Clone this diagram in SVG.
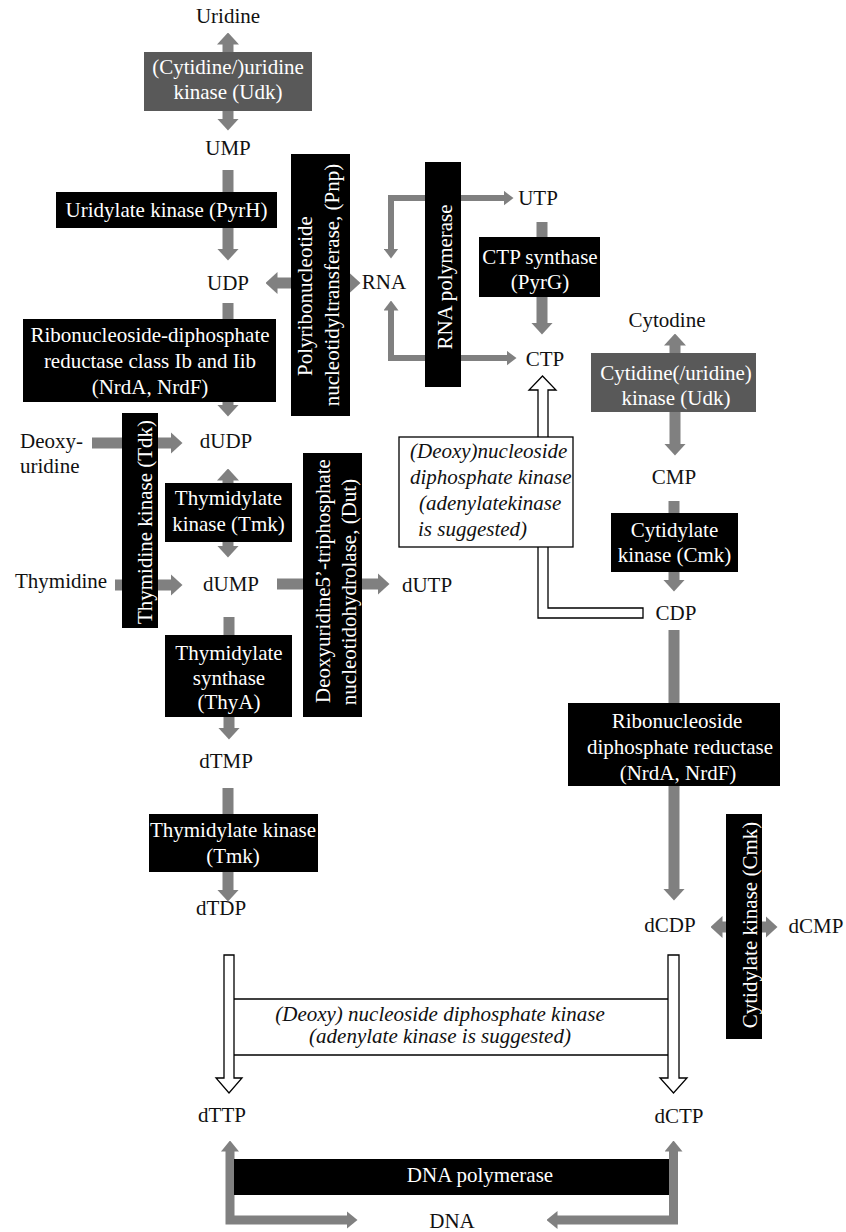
<svg xmlns="http://www.w3.org/2000/svg" width="846" height="1232" viewBox="0 0 846 1232" font-family="'Liberation Serif', 'DejaVu Serif', serif">
<defs>
<style>
text{font-family:'Liberation Serif','DejaVu Serif',serif}
.t{font-size:21px;fill:#111;text-anchor:middle}
.s{text-anchor:start}
.w{fill:#fff}
.it{font-style:italic}
.bk{fill:#000}
.gy{fill:#595959}
.wb{fill:#fff;stroke:#000;stroke-width:1.3}
.c{fill:none;stroke:#808080;stroke-width:11}
.c6{fill:none;stroke:#808080;stroke-width:6}
.c9{fill:none;stroke:#808080;stroke-width:9}
.ho{fill:#fff;stroke:#000;stroke-width:1.3}
.ln{stroke:#000;stroke-width:1.3}
</style>
<marker id="ah" markerUnits="userSpaceOnUse" viewBox="0 0 12 22" markerWidth="12" markerHeight="22" refX="0.5" refY="11" orient="auto-start-reverse"><path d="M0,0L12,11L0,22z" fill="#808080"/></marker>
<marker id="as" markerUnits="userSpaceOnUse" viewBox="0 0 10 15" markerWidth="10" markerHeight="15" refX="0.5" refY="7.5" orient="auto-start-reverse"><path d="M0,0L10,7.5L0,15z" fill="#808080"/></marker>
<marker id="am" markerUnits="userSpaceOnUse" viewBox="0 0 11 18" markerWidth="11" markerHeight="18" refX="0.5" refY="9" orient="auto-start-reverse"><path d="M0,0L11,9L0,18z" fill="#808080"/></marker>
</defs>

<g id="connectors">
<path class="c" d="M228,44V119" marker-start="url(#ah)" marker-end="url(#ah)"/>
<path class="c" d="M228,170V249" marker-end="url(#ah)"/>
<path class="c" d="M277,283H349" marker-start="url(#ah)" marker-end="url(#ah)"/>
<path class="c" d="M228,303V405" marker-end="url(#ah)"/>
<path class="c" d="M92,443H171" marker-end="url(#ah)"/>
<path class="c" d="M228,480V546" marker-start="url(#ah)" marker-end="url(#ah)"/>
<path class="c" d="M115,585H171" marker-end="url(#ah)"/>
<path class="c" d="M277,584H378" marker-end="url(#ah)"/>
<path class="c" d="M229,617V728" marker-end="url(#ah)"/>
<path class="c" d="M228,788V890" marker-end="url(#ah)"/>
<path class="c" d="M542,222V323" marker-end="url(#ah)"/>
<path class="c" d="M675,345V444" marker-start="url(#ah)" marker-end="url(#ah)"/>
<path class="c" d="M674,501V580" marker-end="url(#ah)"/>
<path class="c" d="M674,630V889" marker-end="url(#ah)"/>
<path class="c" d="M722,927H766" marker-start="url(#ah)" marker-end="url(#ah)"/>
<path class="c6" d="M391,249V198H504" marker-start="url(#as)" marker-end="url(#as)"/>
<path class="c6" d="M391,310V358H507" marker-start="url(#as)" marker-end="url(#as)"/>
<path class="c9" d="M230,1151V1220H347" marker-start="url(#am)" marker-end="url(#am)"/>
<path class="c9" d="M673.5,1151V1220H557" marker-start="url(#am)" marker-end="url(#am)"/>
<polygon class="ho" points="643,608 548,608 548,390 556,390 542.5,376 529,390 538,390 538,618 643,618"/>
<polygon class="ho" points="224,955 234,955 234,1078 242,1078 229,1093 216,1078 224,1078"/>
<polygon class="ho" points="668,955 679,955 679,1078 687,1078 673.5,1093 660,1078 668,1078"/>
<line class="ln" x1="234" y1="999" x2="668" y2="999"/>
<line class="ln" x1="234" y1="1055" x2="668" y2="1055"/>
</g>

<g id="uridine"><text class="t" x="228" y="23">Uridine</text></g>
<g id="udk1"><rect class="gy" x="144" y="52" width="168" height="59"/><text class="t w" x="228" y="74">(Cytidine/)uridine</text><text class="t w" x="228" y="99">kinase (Udk)</text></g>
<g id="ump"><text class="t" x="228" y="155">UMP</text></g>
<g id="pyrh"><rect class="bk" x="56" y="192" width="221" height="36"/><text class="t w" x="166.5" y="217">Uridylate kinase (PyrH)</text></g>
<g id="udp"><text class="t" x="228" y="290">UDP</text></g>
<g id="pnp"><rect class="bk" x="291" y="154" width="59" height="262"/>
<text class="t w" transform="translate(312,296) rotate(-90)" x="0" y="0">Polyribonucleotide</text>
<text class="t w" transform="translate(339,285) rotate(-90)" x="0" y="0">nucleotidyltransferase, (Pnp)</text></g>
<g id="rna"><text class="t" x="384" y="289">RNA</text></g>
<g id="rnapol"><rect class="bk" x="425" y="162" width="36" height="225"/><text class="t w" transform="translate(452,277) rotate(-90)">RNA polymerase</text></g>
<g id="utp"><text class="t" x="538" y="205">UTP</text></g>
<g id="pyrg"><rect class="bk" x="479" y="237" width="121" height="60"/><text class="t w" x="540" y="264">CTP synthase</text><text class="t w" x="540" y="289">(PyrG)</text></g>
<g id="ctp"><text class="t" x="545" y="366">CTP</text></g>
<g id="cytodine"><text class="t" x="667" y="327">Cytodine</text></g>
<g id="udk2"><rect class="gy" x="591" y="353" width="165" height="59"/><text class="t w" x="676" y="380">Cytidine(/uridine)</text><text class="t w" x="676" y="405">kinase (Udk)</text></g>
<g id="cmp"><text class="t" x="674" y="484">CMP</text></g>
<g id="cmk1"><rect class="bk" x="611" y="513" width="127" height="59"/><text class="t w" x="674.5" y="537">Cytidylate</text><text class="t w" x="674.5" y="562">kinase (Cmk)</text></g>
<g id="cdp"><text class="t" x="676" y="620">CDP</text></g>
<g id="ndk1"><rect class="wb" x="399" y="437" width="174" height="110"/>
<text class="t it s" x="410" y="458">(Deoxy)nucleoside</text>
<text class="t it s" x="410" y="484">diphosphate kinase</text>
<text class="t it s" x="419" y="510">(adenylatekinase</text>
<text class="t it s" x="418" y="536">is suggested)</text></g>
<g id="nrd1"><rect class="bk" x="23" y="319" width="253" height="83"/><text class="t w" x="150" y="342">Ribonucleoside-diphosphate</text><text class="t w" x="150" y="368">reductase class Ib and Iib</text><text class="t w" x="150" y="394">(NrdA, NrdF)</text></g>
<g id="deoxyuridine"><text class="t s" x="20" y="448">Deoxy-</text><text class="t s" x="20" y="473">uridine</text></g>
<g id="dudp"><text class="t" x="226" y="448">dUDP</text></g>
<g id="tdk"><rect class="bk" x="122" y="413" width="36" height="215"/><text class="t w" transform="translate(152,522) rotate(-90)">Thymidine kinase (Tdk)</text></g>
<g id="tmk1"><rect class="bk" x="165" y="483" width="127" height="59"/><text class="t w" x="228.5" y="505">Thymidylate</text><text class="t w" x="228.5" y="531">kinase (Tmk)</text></g>
<g id="thymidine"><text class="t s" x="15" y="588">Thymidine</text></g>
<g id="dump"><text class="t" x="231" y="591">dUMP</text></g>
<g id="dut"><rect class="bk" x="303" y="453" width="59" height="264"/>
<text class="t w" transform="translate(330,581) rotate(-90)">Deoxyuridine5’-triphosphate</text>
<text class="t w" transform="translate(356,592) rotate(-90)">nucleotidohydrolase, (Dut)</text></g>
<g id="dutp"><text class="t" x="427" y="592">dUTP</text></g>
<g id="thya"><rect class="bk" x="165" y="635" width="127" height="82"/><text class="t w" x="229" y="660">Thymidylate</text><text class="t w" x="229" y="685">synthase</text><text class="t w" x="229" y="709">(ThyA)</text></g>
<g id="dtmp"><text class="t" x="226" y="768">dTMP</text></g>
<g id="tmk2"><rect class="bk" x="149" y="814" width="169" height="58"/><text class="t w" x="233" y="837">Thymidylate kinase</text><text class="t w" x="233" y="863">(Tmk)</text></g>
<g id="dtdp"><text class="t" x="221" y="915">dTDP</text></g>
<g id="nrd2"><rect class="bk" x="568" y="703" width="212" height="83"/><text class="t w" x="677" y="728">Ribonucleoside</text><text class="t w" x="680" y="754">diphosphate reductase</text><text class="t w" x="678" y="780">(NrdA, NrdF)</text></g>
<g id="dcdp"><text class="t" x="670" y="932">dCDP</text></g>
<g id="cmk2"><rect class="bk" x="726" y="814" width="36" height="225"/><text class="t w" transform="translate(757,925) rotate(-90)">Cytidylate kinase (Cmk)</text></g>
<g id="dcmp"><text class="t" x="816" y="933">dCMP</text></g>
<g id="ndk2"><text class="t it" x="440" y="1021">(Deoxy) nucleoside diphosphate kinase</text><text class="t it" x="440" y="1043">(adenylate kinase is suggested)</text></g>
<g id="dttp"><text class="t" x="222" y="1122">dTTP</text></g>
<g id="dctp"><text class="t" x="679" y="1123">dCTP</text></g>
<g id="dnapol"><rect class="bk" x="234" y="1159" width="435" height="36"/><text class="t w" x="480" y="1182">DNA polymerase</text></g>
<g id="dna"><text class="t" x="452" y="1228">DNA</text></g>
</svg>
